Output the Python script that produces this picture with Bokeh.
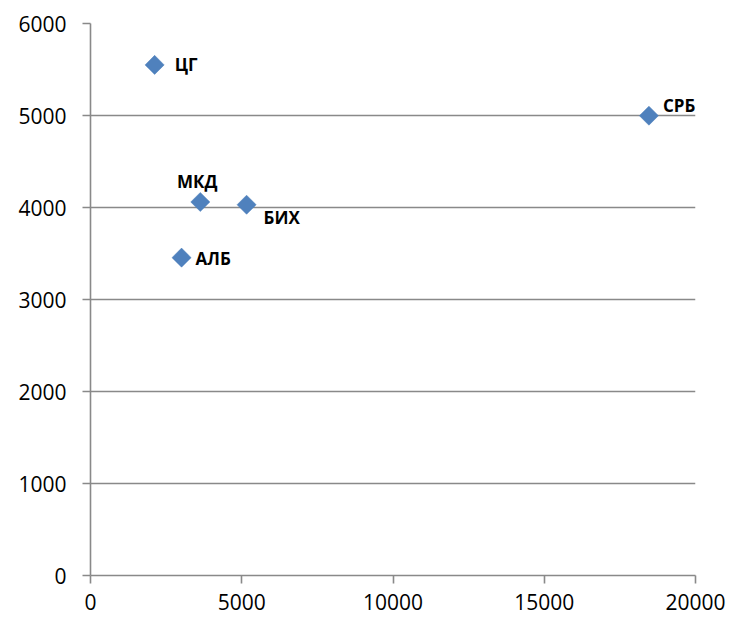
from bokeh.plotting import figure
from bokeh.models import Range1d, FixedTicker, Label
from bokeh.embed import file_html
from bokeh.resources import INLINE

countries = ["ЦГ", "СРБ", "МКД", "БИХ", "АЛБ"]
x_vals = [2120, 18460, 3630, 5160, 3010]
y_vals = [5550, 4998, 4060, 4030, 3455]

x_ticks = [0, 5000, 10000, 15000, 20000]
y_ticks = [0, 1000, 2000, 3000, 4000, 5000, 6000]

# label placement (pixel offsets relative to marker) and alignment
label_dx = [20, 14, -3, 17, 14]
label_dy = [0, 10, 20, -13, -1]
label_align = ["left", "left", "center", "left", "left"]

FONT = "Open Sans"
GRID = "#898989"

p = figure(width=731, height=619, output_backend="svg", toolbar_location=None,
           x_range=Range1d(0, 20000), y_range=Range1d(0, 6000),
           min_border_left=90, min_border_right=36, min_border_top=23, min_border_bottom=44)
p.outline_line_color = None
p.background_fill_color = "white"
p.border_fill_color = "white"

p.xgrid.grid_line_color = None
p.ygrid.grid_line_color = GRID
p.ygrid.grid_line_width = 1.6
p.ygrid.ticker = FixedTicker(ticks=y_ticks)

p.xaxis.ticker = FixedTicker(ticks=x_ticks)
p.yaxis.ticker = FixedTicker(ticks=y_ticks)
for ax in (p.xaxis[0], p.yaxis[0]):
    ax.axis_line_color = GRID
    ax.axis_line_width = 1.6
    ax.major_tick_line_color = GRID
    ax.major_tick_line_width = 1.6
    ax.major_tick_in = 0
    ax.major_tick_out = 8
    ax.minor_tick_line_color = None
    ax.major_label_text_font = FONT
    ax.major_label_text_font_size = "21px"
    ax.major_label_text_color = "#000000"
p.yaxis.major_label_standoff = 16
p.xaxis.major_label_standoff = 10

p.scatter(x_vals, y_vals, marker="square", size=13.5, angle=0.785398,
          fill_color="#4F81BD", line_color="#4A7EBB", line_width=0.5)

for name, xv, yv, dx, dy, al in zip(countries, x_vals, y_vals, label_dx, label_dy, label_align):
    p.add_layout(Label(x=xv, y=yv, text=name, x_offset=dx, y_offset=dy,
                       text_align=al, text_baseline="middle",
                       text_font=FONT, text_font_style="bold",
                       text_font_size="17px", text_color="#000000"))

open("out.html", "w").write(file_html(p, INLINE))
